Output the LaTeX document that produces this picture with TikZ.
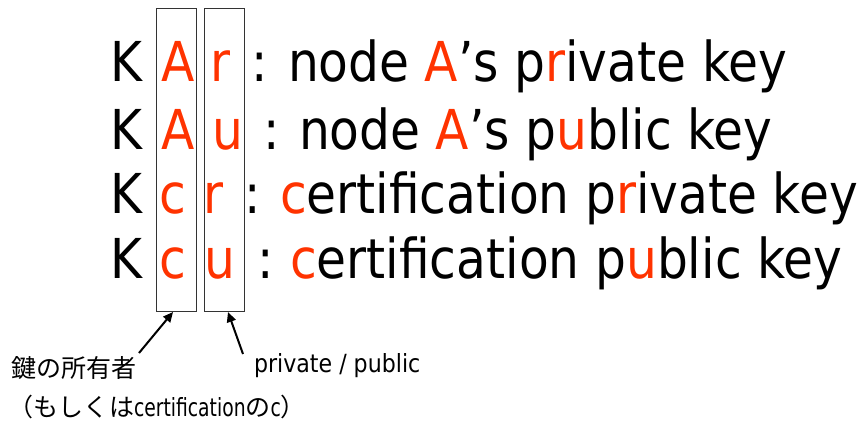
\documentclass[tikz,border=0pt]{standalone}
\usepackage{fontspec}
\setmainfont[FakeStretch=0.885]{DejaVu Sans}
\newfontfamily\jpfont{Noto Sans CJK JP}
\newfontfamily\narrowfont[FakeStretch=0.75]{DejaVu Sans}
\usetikzlibrary{arrows.meta}
\definecolor{keyred}{RGB}{255,51,0}
\begin{document}
\begin{tikzpicture}[x=1pt,y=-1pt,
  big/.style={font=\fontsize{55}{55}\selectfont, inner sep=0pt, outer sep=0pt, anchor=base west},
  keyletter/.style={big, text=keyred},
  small/.style={font=\fontsize{25}{25}\selectfont, inner sep=0pt, outer sep=0pt, anchor=base west},
  jp/.style={font=\fontsize{25}{25}\jpfont, inner sep=0pt, outer sep=0pt, anchor=base west},
  column/.style={draw=black!80, line width=0.8pt, minimum width=40pt, minimum height=302.5pt, inner sep=0pt, anchor=north west},
  pointer/.style={draw=black, line width=2pt, -{Triangle[length=10pt,width=9pt]}}
]
\useasboundingbox (0,0) rectangle (861,425);

% highlight columns for owner and private/public letters
\node[column] (ownerCol) at (155.5,8.5) {};
\node[column] (kindCol) at (203.5,8.5) {};

% row 1: K_A^r
\node[big] (k1) at (110,82) {K};
\node[keyletter] (o1) at (161,82) {A};
\node[keyletter] (t1) at (210.5,82) {r};
\node[big] (c1) at (251,82) {:};
\node[big] (d1) at (288,82) {node \textcolor{keyred}{A}’s p\textcolor{keyred}{r}ivate key};

% row 2: K_A^u
\node[big] (k2) at (110,149) {K};
\node[keyletter] (o2) at (161,149) {A};
\node[keyletter] (t2) at (212,149) {u};
\node[big] (c2) at (263,149) {:};
\node[big] (d2) at (299,149) {node \textcolor{keyred}{A}’s p\textcolor{keyred}{u}blic key};

% row 3: K_c^r
\node[big] (k3) at (110,213) {K};
\node[keyletter] (o3) at (159,213) {c};
\node[keyletter] (t3) at (203.5,213) {r};
\node[big] (c3) at (244,213) {:};
\node[big] (d3) at (280,213) {\textcolor{keyred}{c}ertification p\textcolor{keyred}{r}ivate key};

% row 4: K_c^u
\node[big] (k4) at (110,278) {K};
\node[keyletter] (o4) at (159,278) {c};
\node[keyletter] (t4) at (204,278) {u};
\node[big] (c4) at (257,278) {:};
\node[big] (d4) at (290,278) {\textcolor{keyred}{c}ertification p\textcolor{keyred}{u}blic key};

% captions below the columns
\node[jp] (owner) at (11,377) {鍵の所有者};
\node[small] (kind) at (254,372) {private / public};
\node[jp] (ownerNote) at (9,416) {（もしくは{\narrowfont certification}の{\narrowfont c}）};

% pointers from captions to columns
\coordinate (ownerTail) at (139,353);
\coordinate (ownerTip) at (173,312);
\coordinate (kindTail) at (243,354);
\coordinate (kindTip) at (228,312);
\draw[pointer] (ownerTail) -- (ownerTip);
\draw[pointer] (kindTail) -- (kindTip);
\end{tikzpicture}
\end{document}
